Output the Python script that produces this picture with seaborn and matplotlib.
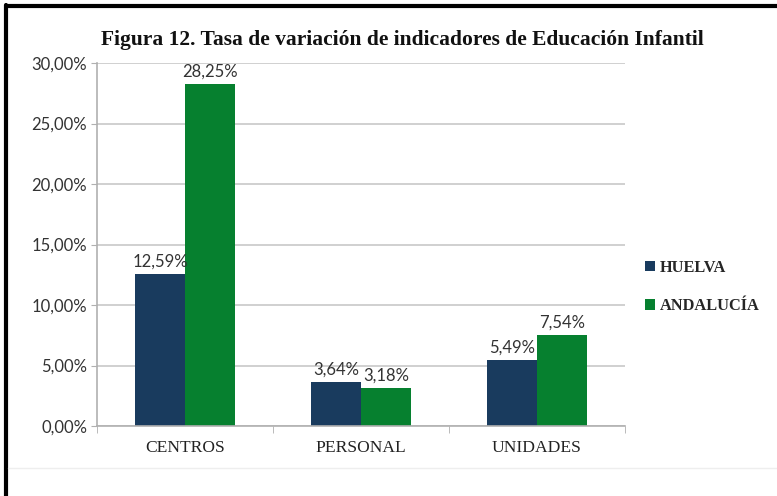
import matplotlib
matplotlib.use('Agg')
import matplotlib.pyplot as plt
from matplotlib.lines import Line2D
from matplotlib.patches import Patch
import pandas as pd
import seaborn as sns

# data
categorias = ['CENTROS', 'PERSONAL', 'UNIDADES']
huelva = [12.59, 3.64, 5.49]
andalucia = [28.25, 3.18, 7.54]
series = ['HUELVA', 'ANDALUCÍA']
colores = ['#193B5E', '#06802F']

df = pd.DataFrame({
    'categoria': categorias * 2,
    'serie': [series[0]] * 3 + [series[1]] * 3,
    'valor': huelva + andalucia,
})

sns.set_style('white')
plt.rcParams['font.family'] = ['Liberation Serif', 'DejaVu Serif']

fig = plt.figure(figsize=(7.77, 4.96), dpi=100)
ax = fig.add_axes([97 / 777, 70 / 496, 528 / 777, 363 / 496])

sns.barplot(data=df, x='categoria', y='valor', hue='serie', palette=colores,
            width=0.57, gap=0, saturation=1, linewidth=0, ax=ax, legend=False)

def pct(v, pos=None):
    return ('%.2f%%' % v).replace('.', ',')

num_font = {'family': ['Lato', 'DejaVu Sans'], 'size': 12, 'color': '#333333'}

for cont, vals in zip(ax.containers, [huelva, andalucia]):
    ax.bar_label(cont, labels=[pct(v) for v in vals], padding=3, **num_font)

ax.set_ylim(0, 30)
ax.set_xlim(-0.5, 2.5)
ax.set_yticks(range(0, 31, 5))
ax.set_yticklabels([pct(v) for v in range(0, 31, 5)], **num_font)
ax.yaxis.grid(True, color='#c8c8c8', linewidth=1.2)
ax.set_axisbelow(True)
ax.set_xlabel('')
ax.set_ylabel('')
for s in ['top', 'right']:
    ax.spines[s].set_visible(False)
for s in ['left', 'bottom']:
    ax.spines[s].set_color('#b0b0b0')
    ax.spines[s].set_linewidth(1.2)
ax.set_xticks([0, 1, 2])
ax.set_xticklabels(categorias, fontsize=12.6, color='#222222')
ax.tick_params(axis='x', length=0, pad=10)
ax.tick_params(axis='y', length=4, color='#b0b0b0', pad=3,
               direction='out', left=True)
# ticks at category boundaries
ax.set_xticks([-0.5, 0.5, 1.5, 2.5], minor=True)
ax.tick_params(axis='x', which='minor', length=5, color='#b0b0b0', bottom=True)

fig.text(402 / 777, 1 - 40 / 496,
         'Figura 12. Tasa de variación de indicadores de Educación Infantil',
         ha='center', va='center', fontsize=15.5, fontweight='bold', color='#111111')

handles = [Patch(facecolor=c, edgecolor='none') for c in colores]
fig.legend(handles, series, loc='center left', bbox_to_anchor=(630 / 777, 1 - 287 / 496),
           frameon=False, handlelength=0.6, handleheight=0.6, handletextpad=0.3,
           labelspacing=1.4, prop={'weight': 'bold', 'size': 11.8})

# outer frame
fig.add_artist(Line2D([6 / 777, 6 / 777], [0, 1 - 5 / 496], color='black', linewidth=3))
fig.add_artist(Line2D([6 / 777, 1], [1 - 6 / 496, 1 - 6 / 496], color='black', linewidth=3))
fig.add_artist(Line2D([8 / 777, 1], [1 - 468 / 496, 1 - 468 / 496], color='#eeeeee', linewidth=1))

fig.savefig('out.png', dpi=100)
